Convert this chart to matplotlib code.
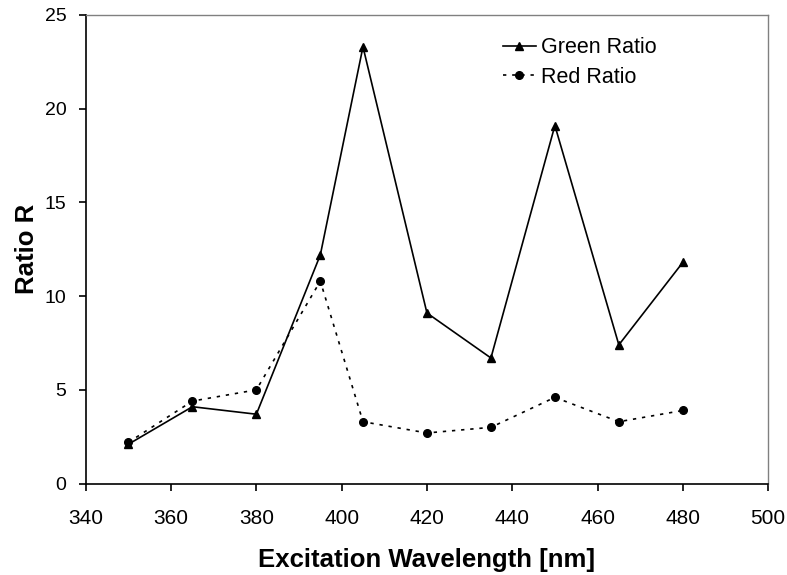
import matplotlib
matplotlib.use("Agg")
import matplotlib.pyplot as plt

wavelength = [350, 365, 380, 395, 405, 420, 435, 450, 465, 480]
green_ratio = [2.1, 4.1, 3.7, 12.2, 23.3, 9.1, 6.7, 19.1, 7.4, 11.8]
red_ratio = [2.2, 4.4, 5.0, 10.8, 3.3, 2.7, 3.0, 4.6, 3.3, 3.9]
x_ticks = [340, 360, 380, 400, 420, 440, 460, 480, 500]
y_ticks = [0, 5, 10, 15, 20, 25]

plt.rcParams['font.family'] = ['Liberation Sans', 'DejaVu Sans']

fig = plt.figure(figsize=(7.87, 5.75), dpi=100)
ax = fig.add_axes([0.109, 0.159, 0.867, 0.815])

ax.plot(wavelength, green_ratio, color='black', lw=1.2, marker='^', ms=6, label='Green Ratio')
ax.plot(wavelength, red_ratio, color='black', lw=1.2, ls=(0, (2, 3.5)), marker='o', ms=5.5, label='Red Ratio')

ax.set_xlim(340, 500)
ax.set_ylim(0, 25)
ax.set_xticks(x_ticks)
ax.set_yticks(y_ticks)
ax.tick_params(direction='out', length=5, width=1.2)
ax.tick_params(axis='x', labelsize=15, pad=13.5)
ax.tick_params(axis='y', labelsize=14, pad=9)
for s in ['left', 'bottom']:
    ax.spines[s].set_linewidth(1.2)
    ax.spines[s].set_color('black')
for s in ['top', 'right']:
    ax.spines[s].set_linewidth(1.0)
    ax.spines[s].set_color('#808080')

ax.set_xlabel('Excitation Wavelength [nm]', fontsize=18.5, fontweight='bold', labelpad=14)
ax.set_ylabel('Ratio R', fontsize=18.5, fontweight='bold', labelpad=4)

ax.legend(loc='upper left', bbox_to_anchor=(0.592, 0.98), frameon=False, fontsize=15.5,
          handlelength=1.55, handletextpad=0.25, labelspacing=0.4, borderaxespad=0.2)

fig.savefig('out.png', dpi=100)
